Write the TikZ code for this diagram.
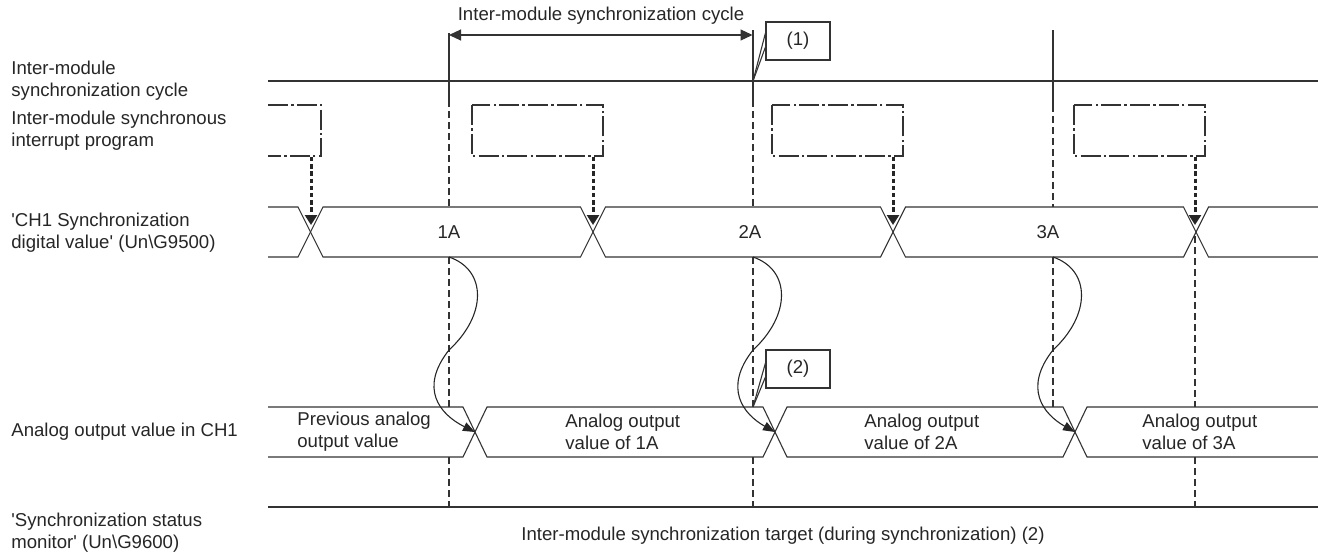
\documentclass[tikz,border=0pt]{standalone}
\usepackage{fontspec}
\setmainfont{Liberation Sans}
\usetikzlibrary{arrows.meta}
\begin{document}
\begin{tikzpicture}[x=0.5pt,y=-0.5pt,
  every node/.style={font=\fontsize{9.3}{11}\selectfont, text=black!85, inner sep=0pt},
  sig/.style={line width=0.55pt, draw=black!80},
  guide/.style={line width=0.55pt, draw=black!80, dash pattern=on 3.3pt off 2.2pt},
  prog/.style={line width=0.55pt, draw=black!80, dash pattern=on 10pt off 1.6pt on 1.2pt off 1.6pt},
  trig/.style={line width=1.5pt, draw=black!85, dash pattern=on 2.2pt off 1.4pt, -{Triangle[length=5pt,width=6pt]}},
  flow/.style={line width=0.55pt, draw=black!85, -{Triangle[length=6pt,width=4.5pt]}},
  cbox/.style={draw=black!80, line width=0.55pt, minimum width=32pt, minimum height=19pt, inner sep=0pt},
  lbl/.style={anchor=west, align=left}
]
\useasboundingbox (0,0) rectangle (1318,553);

% ---------- left labels ----------
\node[lbl] (l1) at (11,81) {Inter-module\\synchronization cycle};
\node[lbl] (l2) at (11,130.5) {Inter-module synchronous\\interrupt program};
\node[lbl] (l3) at (11,233) {\textquotesingle CH1 Synchronization\\digital value\textquotesingle\ (Un\textbackslash G9500)};
\node[lbl] (l4) at (11,432) {Analog output value in CH1};
\node[lbl] (l5) at (11,533) {\textquotesingle Synchronization status\\monitor\textquotesingle\ (Un\textbackslash G9600)};

% ---------- top cycle ----------
\node (ttl) at (601,16) {Inter-module synchronization cycle};
\coordinate (t1) at (449,35);
\coordinate (t2) at (752.5,35);
\draw[sig, {Triangle[length=6pt,width=5.5pt]}-{Triangle[length=6pt,width=5.5pt]}] (t1) -- (t2);

\draw[sig] (268,81) -- (1318,81);
\draw[sig] (449,33) -- (449,100);
\draw[sig] (753,30) -- (753,100);
\draw[sig] (1053,30) -- (1053,105);

% callout (1)
\node[cbox] (c1) at (798,41) {(1)};
\coordinate (c1p) at (753,81);
\draw[sig] (c1p) -- (c1.west |- 0,33);
\draw[sig] (c1p) -- (c1.west |- 0,47);

% ---------- interrupt program boxes ----------
\draw[prog] (268,105) -- (321,105) -- (321,156) -- (268,156);
\draw[prog] (472,105) rectangle (603,156);
\draw[prog] (772,105) rectangle (903,156);
\draw[prog] (1074,105) rectangle (1205,156);

\draw[trig] (311,157) -- (311,225);
\draw[trig] (593,157) -- (593,225);
\draw[trig] (893,157) -- (893,225);
\draw[trig] (1195,157) -- (1195,225);

% ---------- digital value bus ----------
\draw[sig] (268,207)--(298,207)--(323,257)--(580.5,257)--(605.5,207)--(880.5,207)--(905.5,257)--(1183.5,257)--(1208.5,207)--(1318,207);
\draw[sig] (268,257)--(298,257)--(323,207)--(580.5,207)--(605.5,257)--(880.5,257)--(905.5,207)--(1183.5,207)--(1208.5,257)--(1318,257);
\node (d1) at (449,232) {1A};
\node (d2) at (750,232) {2A};
\node (d3) at (1048,232) {3A};

% ---------- guide lines ----------
\draw[guide] (449,100) -- (449,207);
\draw[guide] (449,257) -- (449,407);
\draw[guide] (449,457) -- (449,507);
\draw[guide] (753,100) -- (753,207);
\draw[guide] (753,257) -- (753,407);
\draw[guide] (753,457) -- (753,507);
\draw[guide] (1053,105) -- (1053,207);
\draw[guide] (1053,257) -- (1053,407);
\draw[guide] (1195,236) -- (1195,407);
\draw[guide] (1195,457) -- (1195,507);

% ---------- analog output bus ----------
\draw[sig] (268,407)--(463,407)--(487,457)--(763,457)--(787,407)--(1063,407)--(1087,457)--(1318,457);
\draw[sig] (268,457)--(463,457)--(487,407)--(763,407)--(787,457)--(1063,457)--(1087,407)--(1318,407);
\node[lbl] (a0) at (297,432) {Previous analog\\output value};
\node[lbl] (a1) at (565,432) {Analog output\\value of 1A};
\node[lbl] (a2) at (864,432) {Analog output\\value of 2A};
\node[lbl] (a3) at (1142,432) {Analog output\\value of 3A};

% ---------- S-curves ----------
\foreach \s/\e in {449/475, 753/775, 1053/1075}{
  \draw[flow] (\s,257) .. controls (\s+38,270) and (\s+38,315) .. (\s,350)
              .. controls (\s-30,388) and (\s-10,414) .. (\e,432);
}

% callout (2)
\node[cbox] (c2) at (798,369) {(2)};
\coordinate (c2p) at (753,407);
\draw[sig] (c2p) -- (c2.west |- 0,363);
\draw[sig] (c2p) -- (c2.west |- 0,377);

% ---------- status monitor ----------
\draw[sig] (268,507) -- (1318,507);
\node (st) at (783,536) {Inter-module synchronization target (during synchronization) (2)};
\end{tikzpicture}
\end{document}
